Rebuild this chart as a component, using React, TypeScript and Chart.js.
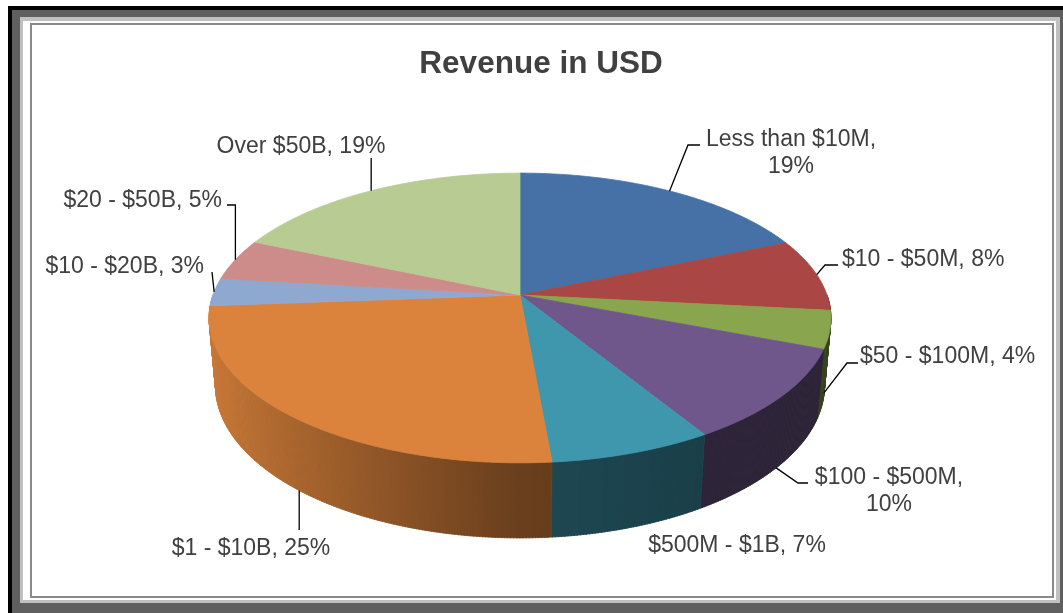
import React, { useEffect, useRef } from "react";
import { Chart, registerables } from "chart.js";

Chart.register(...registerables);

// ---- data ----
const categories = [
  "Less than $10M",
  "$10 - $50M",
  "$50 - $100M",
  "$100 - $500M",
  "$500M - $1B",
  "$1 - $10B",
  "$10 - $20B",
  "$20 - $50B",
  "Over $50B",
];
const shares = [18.6, 8.1, 4.2, 10.4, 7.3, 25.2, 3.1, 4.6, 18.5];
const sliceColors = [
  "#4571a7",
  "#aa4643",
  "#89a54d",
  "#6f578c",
  "#3f97ae",
  "#db833c",
  "#8fa8d0",
  "#cd8b89",
  "#b8cb93",
];
const chartTitle = "Revenue in USD";

// ---- 3D view settings ----
const SIN_A = 0.46;
const COS_A = Math.sqrt(1 - SIN_A * SIN_A);
const CAM = 5.6; // camera distance in radius units
const THICK = 0.25; // pie thickness in radius units
const SCALE = 307 / 255; // horizontal radius relative to chart radius
const FONT = '"Liberation Sans", Arial, sans-serif';
const LABEL_SIZE = 23;
const TEXT_COLOR = "#404040";

// label layout (text anchor, alignment, leader-line bends). null x = anchor x.
type LL = {
  x: number;
  y: number;
  align: CanvasTextAlign;
  split?: boolean;
  level?: number; // 0 top rim, 1 bottom rim
  path?: Array<[number | null, number]>;
};
const labelLayout: LL[] = [
  { x: 791, y: 151, align: "center", split: true, level: 0, path: [[688, 145], [700, 145]] },
  { x: 842, y: 258, align: "left", level: 0, path: [[825, 265], [838, 265]] },
  { x: 860, y: 355, align: "left", level: 0.92, path: [[847, 363], [858, 363]] },
  { x: 889, y: 489, align: "center", split: true, level: 1, path: [[798, 483], [808, 483]] },
  { x: 737, y: 544, align: "center" },
  { x: 251, y: 547, align: "center", level: 1, path: [[null, 530]] },
  { x: 204, y: 265, align: "right", level: 0, path: [[212, 272]] },
  { x: 222, y: 199, align: "right", level: 0, path: [[null, 205], [227, 205]] },
  { x: 301, y: 145, align: "center", level: 0, path: [[null, 158]] },
];

function shade(hex: string, f: number) {
  const n = parseInt(hex.slice(1), 16);
  const r = Math.round(((n >> 16) & 255) * f);
  const g = Math.round(((n >> 8) & 255) * f);
  const b = Math.round((n & 255) * f);
  return `rgb(${r},${g},${b})`;
}

function geometry(chart: any) {
  const arcs = chart.getDatasetMeta(0).data as any[];
  const a0 = arcs[0];
  const cx = a0.x;
  const cy = a0.y;
  const r = a0.outerRadius;
  const F = r * SCALE * CAM;
  const proj = (theta: number, level: number): [number, number] => {
    const X = Math.sin(theta);
    const Z = Math.cos(theta);
    const depth = CAM - level * SIN_A + Z * COS_A;
    const up = level * COS_A + Z * SIN_A;
    return [cx + (F * X) / depth, cy - (F * up) / depth];
  };
  return { arcs, cx, cy, proj };
}

const pie3d = {
  id: "pie3d",
  beforeDatasetsDraw(chart: any) {
    const ctx: CanvasRenderingContext2D = chart.ctx;
    const { arcs, cx, cy, proj } = geometry(chart);
    const step = (0.5 * Math.PI) / 180;
    const bottom = -THICK;

    // side walls
    const quads: Array<{ m: number; pts: number[][]; color: string }> = [];
    arcs.forEach((arc: any, i: number) => {
      const s = arc.startAngle + Math.PI / 2;
      const e = arc.endAngle + Math.PI / 2;
      const lo = Math.max(s, Math.PI / 2);
      const hi = Math.min(e, (3 * Math.PI) / 2);
      for (let t = lo; t < hi; t += step) {
        const t1 = Math.min(t + step, hi);
        const m = (t + t1) / 2;
        const c = -Math.sin(m);
        const f = c >= 0 ? 0.48 + 0.45 * c : Math.max(0.41, 0.48 + 0.12 * c);
        const t2 = Math.min(t1 + 0.002, hi);
        quads.push({
          m,
          pts: [proj(t, 0), proj(t2, 0), proj(t2, bottom), proj(t, bottom)],
          color: shade(sliceColors[i], f),
        });
      }
    });
    quads.sort((a, b) => Math.abs(b.m - Math.PI) - Math.abs(a.m - Math.PI));
    ctx.save();
    ctx.lineJoin = "round";
    for (const q of quads) {
      ctx.beginPath();
      ctx.moveTo(q.pts[0][0], q.pts[0][1]);
      for (let k = 1; k < 4; k++) ctx.lineTo(q.pts[k][0], q.pts[k][1]);
      ctx.closePath();
      ctx.fillStyle = q.color;
      ctx.strokeStyle = q.color;
      ctx.lineWidth = 0.8;
      ctx.fill();
      ctx.stroke();
    }

    // top face
    arcs.forEach((arc: any, i: number) => {
      const s = arc.startAngle + Math.PI / 2;
      const e = arc.endAngle + Math.PI / 2;
      ctx.beginPath();
      ctx.moveTo(cx, cy);
      for (let t = s; t < e; t += step) {
        const p = proj(t, 0);
        ctx.lineTo(p[0], p[1]);
      }
      const pe = proj(e, 0);
      ctx.lineTo(pe[0], pe[1]);
      ctx.closePath();
      ctx.fillStyle = sliceColors[i];
      ctx.strokeStyle = sliceColors[i];
      ctx.lineWidth = 0.8;
      ctx.fill();
      ctx.stroke();
    });
    ctx.restore();
    return false;
  },
  afterDraw(chart: any) {
    const ctx: CanvasRenderingContext2D = chart.ctx;
    const { arcs, proj } = geometry(chart);
    const total = shares.reduce((a, b) => a + b, 0);
    ctx.save();
    // title
    ctx.fillStyle = TEXT_COLOR;
    ctx.font = `bold 31.5px ${FONT}`;
    ctx.textAlign = "center";
    ctx.textBaseline = "alphabetic";
    ctx.fillText(chartTitle, 541, 73);

    // labels
    ctx.font = `${LABEL_SIZE}px ${FONT}`;
    const capHalf = LABEL_SIZE * 0.358;
    arcs.forEach((arc: any, i: number) => {
      const lay = labelLayout[i];
      const pct = Math.round((shares[i] / total) * 100);
      if (lay.path) {
        const mid = (arc.startAngle + arc.endAngle) / 2 + Math.PI / 2;
        const a = proj(mid, -THICK * (lay.level || 0));
        ctx.beginPath();
        ctx.moveTo(a[0], a[1]);
        for (const [px, py] of lay.path) ctx.lineTo(px === null ? a[0] : px, py);
        ctx.strokeStyle = "#000";
        ctx.lineWidth = 1.3;
        ctx.stroke();
      }
      ctx.fillStyle = TEXT_COLOR;
      ctx.textAlign = lay.align;
      if (lay.split) {
        ctx.fillText(`${categories[i]},`, lay.x, lay.y - 13.5 + capHalf);
        ctx.fillText(`${pct}%`, lay.x, lay.y + 13.5 + capHalf);
      } else {
        ctx.fillText(`${categories[i]}, ${pct}%`, lay.x, lay.y + capHalf);
      }
    });
    ctx.restore();
  },
};

export default function App() {
  const ref = useRef<HTMLCanvasElement>(null);
  useEffect(() => {
    const chart = new Chart(ref.current as HTMLCanvasElement, {
      type: "pie",
      data: {
        labels: categories,
        datasets: [
          {
            data: shares,
            backgroundColor: sliceColors,
            borderWidth: 0,
            hoverOffset: 0,
            offset: 0,
          },
        ],
      },
      options: {
        responsive: false,
        animation: false,
        layout: { padding: { left: 100, right: 123, top: 40, bottom: 63 } },
        plugins: {
          legend: { display: false },
          title: { display: false },
          tooltip: { enabled: false },
        },
        events: [],
      },
      plugins: [pie3d as any],
    });
    return () => chart.destroy();
  }, []);
  return (
    <div
      style={{
        position: "absolute",
        left: 0,
        top: 0,
        width: 1063,
        height: 613,
        overflow: "hidden",
        background: "#fff",
      }}
    >
      <div style={{ position: "absolute", left: 8, top: 6, right: 0, bottom: 0, background: "#000" }} />
      <div style={{ position: "absolute", left: 12, top: 10, right: 0, bottom: 0, background: "#5f5f5f" }} />
      <div style={{ position: "absolute", left: 20, top: 17, width: 1040, height: 586, background: "#c0c0c0" }} />
      <div style={{ position: "absolute", left: 23, top: 21, width: 1033, height: 579, background: "#fff" }} />
      <div
        style={{
          position: "absolute",
          left: 30,
          top: 23,
          width: 1024,
          height: 575,
          boxSizing: "border-box",
          border: "2px solid #8a8a8a",
        }}
      />
      <canvas
        ref={ref}
        width={1063}
        height={613}
        style={{ position: "absolute", left: 0, top: 0, width: 1063, height: 613 }}
      />
    </div>
  );
}
